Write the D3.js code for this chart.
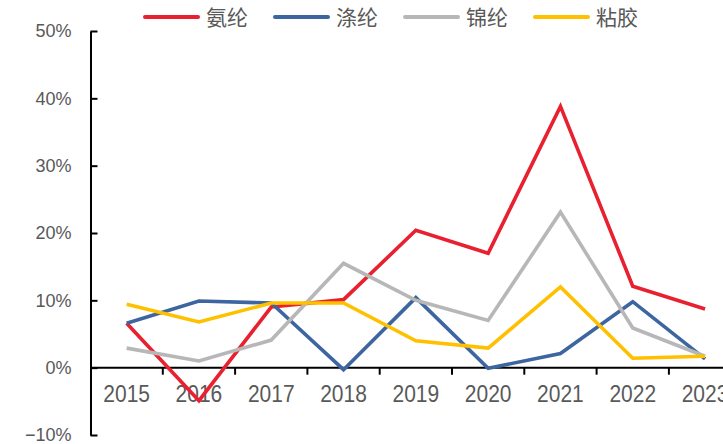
<!DOCTYPE html>
<html>
<head>
<meta charset="utf-8">
<script src="https://cdn.jsdelivr.net/npm/d3@7"></script>
<style>
  body { margin: 0; background: #fff; }
  svg { display: block; }
</style>
</head>
<body>
<div id="chart"></div>
<script>
// data (growth rates, %)
const years = ['2015', '2016', '2017', '2018', '2019', '2020', '2021', '2022', '2023'];
const seriesNames = ['氨纶', '涤纶', '锦纶', '粘胶'];
const spandex = [6.6, -4.9, 9.0, 10.1, 20.4, 17.0, 38.8, 12.1, 8.7];
const polyester = [6.6, 9.9, 9.6, -0.3, 10.4, -0.1, 2.1, 9.8, 1.3];
const nylon = [2.9, 1.0, 4.1, 15.5, 10.0, 7.0, 23.1, 5.9, 1.7];
const viscose = [9.4, 6.8, 9.6, 9.6, 4.0, 2.9, 12.0, 1.4, 1.7];
const yTicks = [-10, 0, 10, 20, 30, 40, 50];

const colors = ['#E8202F', '#3D66A1', '#B7B7B7', '#FFC000'];
const values = [spandex, polyester, nylon, viscose];

const width = 723,
    height = 444,
    axisX = 90.5,
    bandW = 72.3;

const svg = d3.select('#chart').append('svg')
    .attr('width', width)
    .attr('height', height);

const x = d3.scaleBand()
    .domain(years)
    .range([axisX, axisX + bandW * years.length])
    .padding(0);

const y = d3.scaleLinear()
    .domain([-10, 50])
    .range([435, 31]);

// y axis, ticks pointing inward
const gy = svg.append('g')
    .attr('transform', 'translate(' + axisX + ',0)')
    .call(d3.axisLeft(y)
        .tickValues(yTicks)
        .tickSizeInner(-7)
        .tickSizeOuter(0)
        .tickPadding(19)
        .tickFormat(d => (d < 0 ? '\u2212' : '') + Math.abs(d) + '%'));
gy.select('.domain').attr('stroke', '#000').attr('stroke-width', 2);
gy.selectAll('.tick line').attr('stroke', '#000').attr('stroke-width', 2);
gy.selectAll('.tick text')
    .attr('fill', '#595959')
    .style('font-family', 'Arial, "Liberation Sans", sans-serif')
    .style('font-size', '18px');

// x axis at zero
const gx = svg.append('g')
    .attr('transform', 'translate(0,' + y(0) + ')');
gx.append('line')
    .attr('x1', axisX).attr('x2', width)
    .attr('stroke', '#000').attr('stroke-width', 2);
gx.selectAll('.xtick')
    .data(years.slice(1))
    .enter()
    .append('line')
    .attr('class', 'xtick')
    .attr('x1', d => x(d)).attr('x2', d => x(d))
    .attr('y1', 0).attr('y2', 7)
    .attr('stroke', '#000').attr('stroke-width', 2);
gx.selectAll('.xlabel')
    .data(years)
    .enter()
    .append('text')
    .attr('class', 'xlabel')
    .attr('text-anchor', 'middle')
    .attr('transform', d => 'translate(' + (x(d) + x.bandwidth() / 2) + ',34) scale(1,1.1)')
    .attr('fill', '#595959')
    .style('font-family', 'Arial, "Liberation Sans", sans-serif')
    .style('font-size', '21px')
    .text(d => d);

// lines
const line = d3.line()
    .x((d, i) => x(years[i]) + x.bandwidth() / 2)
    .y(d => y(d));

svg.selectAll('.series')
    .data(values)
    .enter()
    .append('path')
    .attr('class', 'series')
    .attr('d', d => line(d))
    .attr('fill', 'none')
    .attr('stroke', (d, i) => colors[i])
    .attr('stroke-width', 3.6)
    .attr('stroke-linejoin', 'miter');

// legend
const legend = svg.append('g')
    .selectAll('g')
    .data(seriesNames)
    .enter()
    .append('g')
    .attr('transform', (d, i) => 'translate(' + (145 + i * 130) + ',17)');
legend.append('line')
    .attr('x1', 0).attr('x2', 53)
    .attr('stroke', (d, i) => colors[i])
    .attr('stroke-width', 4)
    .attr('stroke-linecap', 'round');
legend.append('text')
    .attr('x', 61)
    .attr('dy', '0.36em')
    .attr('fill', '#595959')
    .style('font-family', '"Noto Sans CJK SC", sans-serif')
    .style('font-size', '21px')
    .text(d => d);
</script>
</body>
</html>
